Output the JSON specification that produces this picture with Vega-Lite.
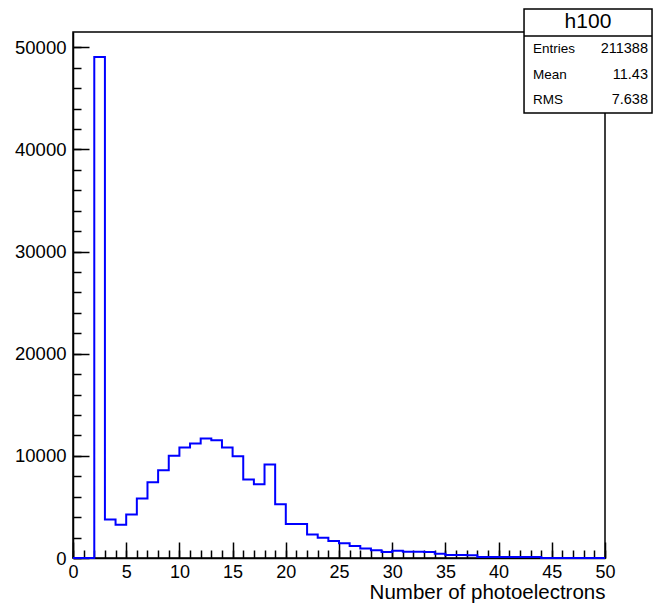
{
  "$schema": "https://vega.github.io/schema/vega-lite/v6.json",
  "width": 532,
  "height": 526,
  "autosize": {"type": "none"},
  "padding": {"left": 73, "top": 32, "right": 50, "bottom": 46},
  "background": "white",
  "config": {
    "view": {"stroke": "#000", "strokeWidth": 1.5},
    "axis": {
      "labelFont": "Liberation Sans",
      "titleFont": "Liberation Sans",
      "labelColor": "#000",
      "titleColor": "#000",
      "tickColor": "#000",
      "domainColor": "#000",
      "grid": false,
      "labelFontWeight": "normal",
      "titleFontWeight": "normal",
      "labelOverlap": false,
      "labelFlush": false
    },
    "text": {"font": "Liberation Sans", "color": "#000"}
  },
  "datasets": {
    "bins": [
      {"edge": 0, "count": 0}, {"edge": 1, "count": 0}, {"edge": 2, "count": 49050},
      {"edge": 3, "count": 3760}, {"edge": 4, "count": 3250}, {"edge": 5, "count": 4250},
      {"edge": 6, "count": 5820}, {"edge": 7, "count": 7420}, {"edge": 8, "count": 8600},
      {"edge": 9, "count": 10000}, {"edge": 10, "count": 10820}, {"edge": 11, "count": 11210},
      {"edge": 12, "count": 11700}, {"edge": 13, "count": 11540}, {"edge": 14, "count": 10820},
      {"edge": 15, "count": 9970}, {"edge": 16, "count": 7680}, {"edge": 17, "count": 7220},
      {"edge": 18, "count": 9150}, {"edge": 19, "count": 5260}, {"edge": 20, "count": 3330},
      {"edge": 21, "count": 3330}, {"edge": 22, "count": 2290}, {"edge": 23, "count": 1990},
      {"edge": 24, "count": 1670}, {"edge": 25, "count": 1450}, {"edge": 26, "count": 1180},
      {"edge": 27, "count": 920}, {"edge": 28, "count": 750}, {"edge": 29, "count": 590},
      {"edge": 30, "count": 700}, {"edge": 31, "count": 620}, {"edge": 32, "count": 620},
      {"edge": 33, "count": 590}, {"edge": 34, "count": 420}, {"edge": 35, "count": 290},
      {"edge": 36, "count": 290}, {"edge": 37, "count": 260}, {"edge": 38, "count": 110},
      {"edge": 39, "count": 110}, {"edge": 40, "count": 110}, {"edge": 41, "count": 100},
      {"edge": 42, "count": 100}, {"edge": 43, "count": 100}, {"edge": 44, "count": 0},
      {"edge": 45, "count": 0}, {"edge": 46, "count": 0}, {"edge": 47, "count": 0},
      {"edge": 48, "count": 0}, {"edge": 49, "count": 0}, {"edge": 50, "count": 0}
    ],
    "statbox": [{"title": "h100"}],
    "stats": [
      {"name": "Entries", "value": "211388"},
      {"name": "Mean", "value": "11.43"},
      {"name": "RMS", "value": "7.638"}
    ]
  },
  "layer": [
    {
      "data": {"name": "bins"},
      "mark": {"type": "line", "interpolate": "step-after", "color": "#0000ff", "strokeWidth": 2},
      "encoding": {
        "x": {
          "field": "edge", "type": "quantitative",
          "scale": {"domain": [0, 50], "nice": false, "zero": false},
          "axis": {
            "orient": "bottom",
            "values": [0, 5, 10, 15, 20, 25, 30, 35, 40, 45, 50],
            "format": "d",
            "tickSize": -16, "tickWidth": 1.5, "domainWidth": 1.5,
            "labelFontSize": 18, "labelPadding": 21,
            "title": "Number of photoelectrons", "titleFontSize": 20.5,
            "titleAnchor": "end", "titlePadding": 1.5
          }
        },
        "y": {
          "field": "count", "type": "quantitative",
          "scale": {"domain": [0, 51500], "nice": false, "zero": true},
          "axis": {
            "orient": "left",
            "values": [0, 10000, 20000, 30000, 40000, 50000],
            "format": "d",
            "tickSize": -16, "tickWidth": 1.5, "domainWidth": 1.5,
            "labelFontSize": 18.5, "labelPadding": 23,
            "title": null
          }
        }
      }
    },
    {
      "data": {"name": "bins"},
      "mark": {"type": "line", "opacity": 0},
      "encoding": {
        "x": {
          "field": "edge", "type": "quantitative",
          "axis": {
            "orient": "bottom",
            "values": [0,1,2,3,4,5,6,7,8,9,10,11,12,13,14,15,16,17,18,19,20,21,22,23,24,25,26,27,28,29,30,31,32,33,34,35,36,37,38,39,40,41,42,43,44,45,46,47,48,49,50],
            "tickSize": -8, "tickWidth": 1.5, "domain": false, "labels": false, "title": null
          }
        },
        "y": {
          "field": "count", "type": "quantitative",
          "axis": {
            "orient": "left",
            "values": [0,2000,4000,6000,8000,10000,12000,14000,16000,18000,20000,22000,24000,26000,28000,30000,32000,34000,36000,38000,40000,42000,44000,46000,48000,50000],
            "tickSize": -8, "tickWidth": 1.5, "domain": false, "labels": false, "title": null
          }
        }
      }
    },
    {
      "data": {"name": "statbox"},
      "mark": {"type": "rect", "fill": "white", "stroke": "#000", "strokeWidth": 1.5},
      "encoding": {
        "x": {"datum": 42.39, "type": "quantitative", "axis": null},
        "x2": {"datum": 54.42},
        "y": {"datum": 53753, "type": "quantitative", "axis": null},
        "y2": {"datum": 43570}
      }
    },
    {
      "data": {"name": "statbox"},
      "mark": {"type": "rule", "stroke": "#000", "strokeWidth": 1.5},
      "encoding": {
        "x": {"datum": 42.39, "type": "quantitative", "axis": null},
        "x2": {"datum": 54.42},
        "y": {"datum": 51109, "type": "quantitative", "axis": null}
      }
    },
    {
      "data": {"name": "statbox"},
      "mark": {"type": "text", "fontSize": 21, "align": "center", "baseline": "middle"},
      "encoding": {
        "x": {"datum": 48.4, "type": "quantitative", "axis": null},
        "y": {"datum": 52480, "type": "quantitative", "axis": null},
        "text": {"field": "title"}
      }
    },
    {
      "data": {"name": "stats"},
      "transform": [{"filter": "datum.name === 'Entries'"}],
      "layer": [
        {
          "mark": {"type": "text", "fontSize": 13.5, "align": "left", "baseline": "middle"},
          "encoding": {
            "x": {"datum": 43.23, "type": "quantitative", "axis": null},
            "y": {"datum": 49836, "type": "quantitative", "axis": null},
            "text": {"field": "name"}
          }
        },
        {
          "mark": {"type": "text", "fontSize": 14.5, "align": "right", "baseline": "middle"},
          "encoding": {
            "x": {"datum": 54.04, "type": "quantitative", "axis": null},
            "y": {"datum": 49836, "type": "quantitative", "axis": null},
            "text": {"field": "value"}
          }
        }
      ]
    },
    {
      "data": {"name": "stats"},
      "transform": [{"filter": "datum.name === 'Mean'"}],
      "layer": [
        {
          "mark": {"type": "text", "fontSize": 13.5, "align": "left", "baseline": "middle"},
          "encoding": {
            "x": {"datum": 43.23, "type": "quantitative", "axis": null},
            "y": {"datum": 47291, "type": "quantitative", "axis": null},
            "text": {"field": "name"}
          }
        },
        {
          "mark": {"type": "text", "fontSize": 14.5, "align": "right", "baseline": "middle"},
          "encoding": {
            "x": {"datum": 54.04, "type": "quantitative", "axis": null},
            "y": {"datum": 47291, "type": "quantitative", "axis": null},
            "text": {"field": "value"}
          }
        }
      ]
    },
    {
      "data": {"name": "stats"},
      "transform": [{"filter": "datum.name === 'RMS'"}],
      "layer": [
        {
          "mark": {"type": "text", "fontSize": 13.5, "align": "left", "baseline": "middle"},
          "encoding": {
            "x": {"datum": 43.23, "type": "quantitative", "axis": null},
            "y": {"datum": 44843, "type": "quantitative", "axis": null},
            "text": {"field": "name"}
          }
        },
        {
          "mark": {"type": "text", "fontSize": 14.5, "align": "right", "baseline": "middle"},
          "encoding": {
            "x": {"datum": 54.04, "type": "quantitative", "axis": null},
            "y": {"datum": 44843, "type": "quantitative", "axis": null},
            "text": {"field": "value"}
          }
        }
      ]
    }
  ],
  "resolve": {"axis": {"x": "independent", "y": "independent"}}
}
